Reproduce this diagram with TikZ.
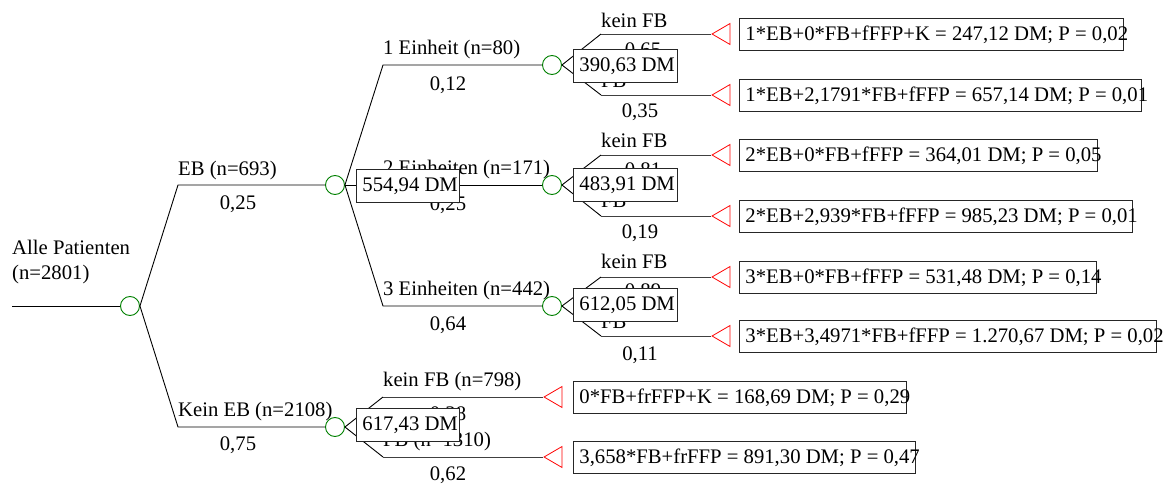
\documentclass[tikz,border=0pt]{standalone}
\usepackage{fontspec}
\setmainfont{Liberation Serif}
\usetikzlibrary{shapes.geometric}
% fixed-width box content: text starts after a small indent and may run past the frame
\newcommand\boxtext[2]{\makebox[#1pt][l]{\hspace{6pt}#2}}
\begin{document}
\begin{tikzpicture}[x=1pt,y=-1pt,
  font=\fontsize{20.7}{24}\selectfont,
  branch/.style={line width=0.9pt, black},
  leafline/.style={line width=0.9pt, black!75},
  chance/.style={circle, draw=green!50!black, line width=0.9pt, minimum size=19pt, inner sep=0pt},
  terminal/.style={isosceles triangle, isosceles triangle stretches, shape border rotate=180,
    draw=red, line width=0.8pt, minimum width=21pt, minimum height=18pt, inner sep=0pt, anchor=apex},
  lbl/.style={anchor=west, inner sep=0pt},
  prob/.style={inner sep=0pt},
  valbox/.style={draw=black!85, fill=white, line width=0.9pt, anchor=north west,
    inner xsep=0pt, inner ysep=0pt, minimum height=33pt},
  outbox/.style={valbox, minimum height=32pt},
]
\useasboundingbox (0,0) rectangle (1171,484);

% ---- chance nodes
\coordinate (start) at (12,306);
\node[chance] (root) at (130,306) {};
\node[chance] (eb)   at (335,185) {};
\node[chance] (neb)  at (335,427) {};
\node[chance] (e1)   at (552,65) {};
\node[chance] (e2)   at (552,185) {};
\node[chance] (e3)   at (552,306) {};

% ---- bend points
\coordinate (rUp) at (178,185);
\coordinate (rDn) at (178,427);
\coordinate (e1c) at (383,65);
\coordinate (e3c) at (383,306);
\coordinate (e1u) at (601,34);  \coordinate (e1d) at (601,95);
\coordinate (e2u) at (601,155); \coordinate (e2d) at (601,216);
\coordinate (e3u) at (601,277); \coordinate (e3d) at (601,336);
\coordinate (nu)  at (383,397); \coordinate (nd)  at (383,457);

% ---- terminal nodes
\node[terminal] (t1a) at (711,34) {};
\node[terminal] (t1b) at (711,95) {};
\node[terminal] (t2a) at (711,155) {};
\node[terminal] (t2b) at (711,216) {};
\node[terminal] (t3a) at (711,277) {};
\node[terminal] (t3b) at (711,336) {};
\node[terminal] (t4a) at (543,397) {};
\node[terminal] (t4b) at (543,457) {};

% ---- branches
\draw[branch] (start) -- (root.west);
\draw[branch] (root.east) -- (rUp) -- (eb.west);
\draw[branch] (root.east) -- (rDn) -- (neb.west);
\draw[branch] (eb.east) -- (e1c) -- (e1.west);
\draw[branch] (eb.east) -- (e2.west);
\draw[branch] (eb.east) -- (e3c) -- (e3.west);
\draw[branch] (e1.east) -- (e1u);  \draw[leafline] (e1u) -- (t1a.apex);
\draw[branch] (e1.east) -- (e1d);  \draw[leafline] (e1d) -- (t1b.apex);
\draw[branch] (e2.east) -- (e2u);  \draw[leafline] (e2u) -- (t2a.apex);
\draw[branch] (e2.east) -- (e2d);  \draw[leafline] (e2d) -- (t2b.apex);
\draw[branch] (e3.east) -- (e3u);  \draw[leafline] (e3u) -- (t3a.apex);
\draw[branch] (e3.east) -- (e3d);  \draw[leafline] (e3d) -- (t3b.apex);
\draw[branch] (neb.east) -- (nu);  \draw[leafline] (nu) -- (t4a.apex);
\draw[branch] (neb.east) -- (nd);  \draw[leafline] (nd) -- (t4b.apex);

% ---- branch labels and probabilities
\node[lbl] (lroot1) at (12,247) {Alle Patienten};
\node[lbl] (lroot2) at (12,275) {(n=2801)};
\node[lbl] (leb)  at (178,171) {EB (n=693)};
\node[prob] (peb)  at (238,204) {0,25};
\node[lbl] (lneb) at (178,412) {Kein EB (n=2108)};
\node[prob] (pneb) at (238,445) {0,75};

\node[lbl] (le1) at (383,50)  {1 Einheit (n=80)};
\node[prob] (pe1) at (448,85)  {0,12};
\node[lbl] (le2) at (383,170) {2 Einheiten (n=171)};
\node[prob] (pe2) at (448,205) {0,25};
\node[lbl] (le3) at (383,291) {3 Einheiten (n=442)};
\node[prob] (pe3) at (448,325) {0,64};

\node[lbl] (l1a) at (601,20)  {kein FB};
\node[prob] (p1a) at (643,51)  {0,65};
\node[lbl] (l1b) at (601,81)  {FB};
\node[prob] (p1b) at (640,112) {0,35};
\node[lbl] (l2a) at (601,140) {kein FB};
\node[prob] (p2a) at (643,171) {0,81};
\node[lbl] (l2b) at (601,201) {FB};
\node[prob] (p2b) at (640,233) {0,19};
\node[lbl] (l3a) at (601,261) {kein FB};
\node[prob] (p3a) at (643,292) {0,89};
\node[lbl] (l3b) at (601,322) {FB};
\node[prob] (p3b) at (640,355) {0,11};

\node[lbl] (l4a) at (383,382) {kein FB (n=798)};
\node[prob] (p4a) at (448,415) {0,38};
\node[lbl] (l4b) at (383,442) {FB (n=1310)};
\node[prob] (p4b) at (448,475) {0,62};

% ---- expected values
\node[valbox] (veb)  at (356,169) {\boxtext{103}{554,94 DM}};
\node[valbox] (vneb) at (356,408) {\boxtext{103}{617,43 DM}};
\node[valbox] (ve1)  at (573,49)  {\boxtext{104}{390,63 DM}};
\node[valbox] (ve2)  at (573,168) {\boxtext{104}{483,91 DM}};
\node[valbox] (ve3)  at (573,288) {\boxtext{104}{612,05 DM}};

% ---- outcomes
\node[outbox] (o1a) at (739,18)  {\boxtext{384}{1*EB+0*FB+fFFP+K = 247,12 DM; P = 0,02}};
\node[outbox] (o1b) at (739,79)  {\boxtext{402}{1*EB+2,1791*FB+fFFP = 657,14 DM; P = 0,01}};
\node[outbox] (o2a) at (739,139) {\boxtext{358}{2*EB+0*FB+fFFP = 364,01 DM; P = 0,05}};
\node[outbox] (o2b) at (739,200) {\boxtext{393}{2*EB+2,939*FB+fFFP = 985,23 DM; P = 0,01}};
\node[outbox] (o3a) at (739,261) {\boxtext{357}{3*EB+0*FB+fFFP = 531,48 DM; P = 0,14}};
\node[outbox] (o3b) at (739,320) {\boxtext{417}{3*EB+3,4971*FB+fFFP = 1.270,67 DM; P = 0,02}};
\node[outbox] (o4a) at (573,381) {\boxtext{333}{0*FB+frFFP+K = 168,69 DM; P = 0,29}};
\node[outbox] (o4b) at (573,441) {\boxtext{342}{3,658*FB+frFFP = 891,30 DM; P = 0,47}};
\end{tikzpicture}
\end{document}
